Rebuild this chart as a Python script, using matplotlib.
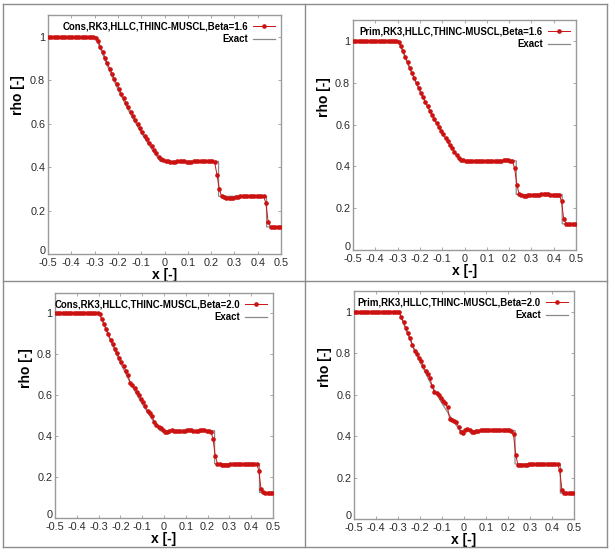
import matplotlib
matplotlib.use("Agg")
import matplotlib.pyplot as plt
from matplotlib.lines import Line2D

plt.rcParams['font.family'] = ['Liberation Sans', 'DejaVu Sans']

# ---------------- data ----------------
x_cells = [-0.495, -0.485, -0.475, -0.465, -0.455, -0.445, -0.435, -0.425, -0.415, -0.405,
           -0.395, -0.385, -0.375, -0.365, -0.355, -0.345, -0.335, -0.325, -0.315, -0.305,
           -0.295, -0.285, -0.275, -0.265, -0.255, -0.245, -0.235, -0.225, -0.215, -0.205,
           -0.195, -0.185, -0.175, -0.165, -0.155, -0.145, -0.135, -0.125, -0.115, -0.105,
           -0.095, -0.085, -0.075, -0.065, -0.055, -0.045, -0.035, -0.025, -0.015, -0.005,
           0.005, 0.015, 0.025, 0.035, 0.045, 0.055, 0.065, 0.075, 0.085, 0.095,
           0.105, 0.115, 0.125, 0.135, 0.145, 0.155, 0.165, 0.175, 0.185, 0.195,
           0.205, 0.215, 0.225, 0.235, 0.245, 0.255, 0.265, 0.275, 0.285, 0.295,
           0.305, 0.315, 0.325, 0.335, 0.345, 0.355, 0.365, 0.375, 0.385, 0.395,
           0.405, 0.415, 0.425, 0.435, 0.445, 0.455, 0.465, 0.475, 0.485, 0.495]

plateau_left = [1.0] * 20

rho_cons_16 = plateau_left + [
    0.995, 0.980, 0.955, 0.930, 0.903, 0.878, 0.853, 0.829, 0.805, 0.782,
    0.760, 0.738, 0.716, 0.695, 0.675, 0.655, 0.635, 0.616, 0.597, 0.578,
    0.560, 0.543, 0.527, 0.511, 0.495, 0.479, 0.463, 0.447, 0.435, 0.432,
    0.430, 0.428, 0.424, 0.423, 0.424, 0.428, 0.430, 0.428, 0.426, 0.424,
    0.424, 0.425, 0.426, 0.427, 0.428, 0.428, 0.429, 0.430, 0.430, 0.430,
    0.428, 0.424, 0.365, 0.300, 0.265, 0.262, 0.259, 0.258, 0.258, 0.259,
    0.262, 0.264, 0.265, 0.266, 0.266, 0.266, 0.266, 0.265, 0.265, 0.265,
    0.265, 0.265, 0.265, 0.236, 0.148, 0.126, 0.125, 0.125, 0.125, 0.124]

rho_prim_16 = plateau_left + [
    0.997, 0.975, 0.950, 0.923, 0.897, 0.871, 0.846, 0.822, 0.798, 0.775,
    0.752, 0.730, 0.709, 0.688, 0.667, 0.647, 0.627, 0.608, 0.589, 0.571,
    0.553, 0.536, 0.519, 0.503, 0.487, 0.471, 0.456, 0.441, 0.431, 0.429,
    0.428, 0.427, 0.425, 0.424, 0.425, 0.427, 0.428, 0.428, 0.427, 0.427,
    0.427, 0.428, 0.428, 0.428, 0.427, 0.427, 0.428, 0.429, 0.429, 0.429,
    0.428, 0.425, 0.390, 0.310, 0.268, 0.262, 0.260, 0.260, 0.261, 0.262,
    0.263, 0.264, 0.265, 0.265, 0.266, 0.266, 0.266, 0.266, 0.265, 0.265,
    0.265, 0.264, 0.263, 0.233, 0.147, 0.126, 0.125, 0.125, 0.125, 0.124]

rho_cons_20 = plateau_left + [
    0.995, 0.972, 0.948, 0.925, 0.900, 0.872, 0.850, 0.828, 0.806, 0.782,
    0.762, 0.742, 0.718, 0.697, 0.660, 0.648, 0.636, 0.618, 0.600, 0.582,
    0.567, 0.548, 0.522, 0.515, 0.498, 0.470, 0.455, 0.445, 0.440, 0.428,
    0.420, 0.421, 0.426, 0.430, 0.427, 0.425, 0.424, 0.424, 0.425, 0.426,
    0.428, 0.430, 0.429, 0.427, 0.426, 0.427, 0.429, 0.430, 0.428, 0.427,
    0.425, 0.422, 0.387, 0.304, 0.265, 0.262, 0.260, 0.260, 0.260, 0.261,
    0.262, 0.264, 0.265, 0.265, 0.266, 0.266, 0.266, 0.266, 0.266, 0.266,
    0.266, 0.265, 0.265, 0.232, 0.140, 0.125, 0.124, 0.124, 0.124, 0.124]

rho_prim_20 = plateau_left + [
    0.997, 0.975, 0.950, 0.922, 0.895, 0.872, 0.840, 0.812, 0.795, 0.778,
    0.760, 0.738, 0.715, 0.700, 0.680, 0.640, 0.615, 0.608, 0.600, 0.585,
    0.568, 0.560, 0.538, 0.482, 0.476, 0.472, 0.469, 0.445, 0.418, 0.415,
    0.428, 0.435, 0.430, 0.422, 0.420, 0.424, 0.426, 0.428, 0.428, 0.427,
    0.428, 0.430, 0.429, 0.428, 0.427, 0.428, 0.428, 0.428, 0.428, 0.428,
    0.427, 0.425, 0.408, 0.310, 0.262, 0.260, 0.259, 0.259, 0.261, 0.263,
    0.264, 0.264, 0.264, 0.265, 0.265, 0.265, 0.266, 0.266, 0.265, 0.265,
    0.264, 0.264, 0.263, 0.235, 0.142, 0.125, 0.124, 0.124, 0.124, 0.124]

# exact Sod solution (t = 0.25) breakpoints
x_exact = [-0.5, -0.296, -0.25, -0.2, -0.15, -0.1, -0.05, -0.018,
           0.232, 0.232, 0.438, 0.438, 0.5]
rho_exact = [1.0, 1.0, 0.8776, 0.7576, 0.6513, 0.5574, 0.4746, 0.4263,
             0.4263, 0.2656, 0.2656, 0.125, 0.125]

titles = ["Cons,RK3,HLLC,THINC-MUSCL,Beta=1.6",
          "Prim,RK3,HLLC,THINC-MUSCL,Beta=1.6",
          "Cons,RK3,HLLC,THINC-MUSCL,Beta=2.0",
          "Prim,RK3,HLLC,THINC-MUSCL,Beta=2.0"]
series = [rho_cons_16, rho_prim_16, rho_cons_20, rho_prim_20]

x_ticks = [-0.5, -0.4, -0.3, -0.2, -0.1, 0.0, 0.1, 0.2, 0.3, 0.4, 0.5]
x_tick_labels = ["-0.5", "-0.4", "-0.3", "-0.2", "-0.1", "0", "0.1", "0.2", "0.3", "0.4", "0.5"]
y_ticks = [0, 0.2, 0.4, 0.6, 0.8, 1.0]
y_tick_labels = ["0", "0.2", "0.4", "0.6", "0.8", "1"]

# ---------------- figure ----------------
W, H = 615, 555
fig = plt.figure(figsize=(W / 100, H / 100), dpi=100)
fig.patch.set_facecolor("white")

# axes boxes in pixels: left, right, top, bottom
boxes = [(48, 281, 15, 254), (353, 576, 20, 250),
         (55, 273, 293, 518), (354, 574, 291, 519)]

red = "#cc1111"
spine_col = "#9a9a9a"

for (l, r, t, b), title, rho in zip(boxes, titles, series):
    ax = fig.add_axes([l / W, 1 - b / H, (r - l) / W, (b - t) / H])
    ax.plot(x_exact, rho_exact, color="#8a8a8a", lw=0.9, label="Exact", zorder=2)
    ax.plot(x_cells, rho, color=red, lw=0.7, marker="o", ms=2.3, mec=red, mfc=red,
            label=title, zorder=3)
    ax.set_xlim(-0.5, 0.5)
    ax.set_ylim(0, 1.1)
    ax.set_xticks(x_ticks)
    ax.set_xticklabels(x_tick_labels)
    ax.set_yticks(y_ticks)
    ylabs = ax.set_yticklabels(y_tick_labels)
    ylabs[0].set_verticalalignment("baseline")
    ax.tick_params(direction="in", length=2.5, width=0.6, color=spine_col,
                   top=True, right=True, labelsize=7.8, labelcolor="#2a2a2a", pad=2)
    ax.tick_params(axis="x", pad=3)
    for s in ax.spines.values():
        s.set_color(spine_col)
        s.set_linewidth(1.0)
    ax.set_xlabel("x [-]", fontsize=10, fontweight="bold", labelpad=0)
    ax.set_ylabel("rho [-]", fontsize=10, fontweight="bold")
    ax.yaxis.set_label_coords(-0.1, 0.665)
    handles, labels = ax.get_legend_handles_labels()
    leg = ax.legend(handles[::-1], labels[::-1], loc="upper right", frameon=False,
                    markerfirst=False, numpoints=1, handlelength=2.3,
                    prop={"size": 6.9, "weight": "bold"}, borderaxespad=0.25,
                    labelspacing=0.3, handletextpad=0.5)

# table frame lines
def fline(x0, y0, x1, y1):
    fig.add_artist(Line2D([x0 / W, x1 / W], [1 - y0 / H, 1 - y1 / H],
                          color="#8c8c8c", lw=1.0, transform=fig.transFigure))

fline(3, 4, 607, 4)
fline(3, 547, 607, 547)
fline(3, 4, 3, 547)
fline(607, 4, 607, 547)
fline(305, 4, 305, 547)
fline(3, 281, 607, 281)

fig.savefig("out.png", dpi=100, facecolor="white")
